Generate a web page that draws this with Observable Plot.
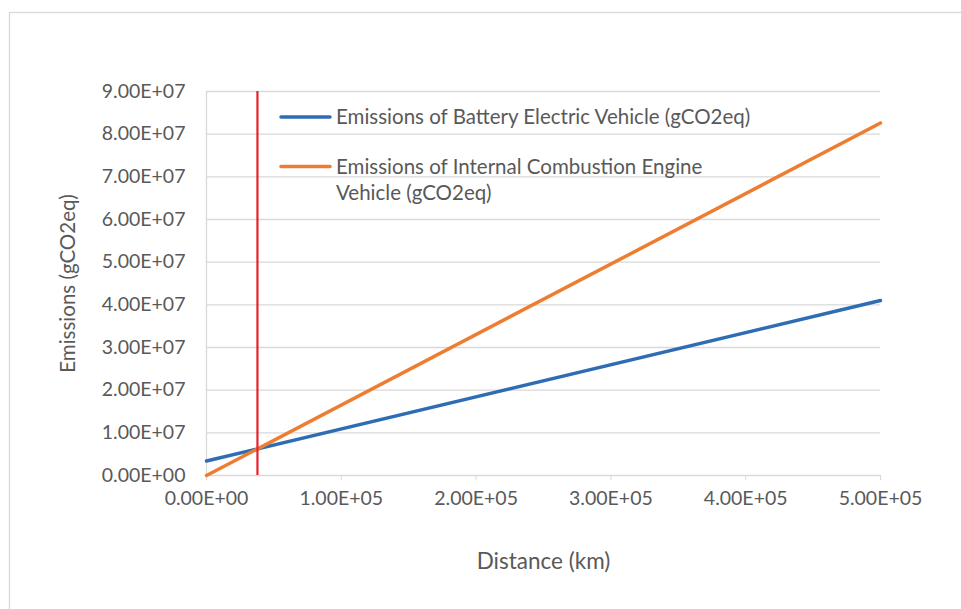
<!DOCTYPE html>
<html>
<head>
<meta charset="utf-8">
<script src="https://cdn.jsdelivr.net/npm/d3@7"></script>
<script src="https://cdn.jsdelivr.net/npm/@observablehq/plot@0.6"></script>
<style>
  html, body { margin: 0; padding: 0; background: #fff; }
  #chart svg { display: block; }
</style>
</head>
<body>
<div id="chart"></div>
<script>
// ---- data ----
const distanceKm = [0, 500000];
const bevEmissions = [3.4e6, 4.1e7];   // gCO2eq
const iceEmissions = [0, 8.26e7];      // gCO2eq
const breakEvenKm = [37800];
const seriesNames = [
  "Emissions of Battery Electric Vehicle (gCO2eq)",
  "Emissions of Internal Combustion Engine Vehicle (gCO2eq)"
];
const xTicks = [0, 100000, 200000, 300000, 400000, 500000];
const yTicks = [0, 1e7, 2e7, 3e7, 4e7, 5e7, 6e7, 7e7, 8e7, 9e7];
const xTitle = "Distance (km)";
const yTitle = "Emissions (gCO2eq)";

const colors = {bev: "#2e6db4", ice: "#ed7d31", red: "#e8202c", grid: "#d9d9d9", text: "#595959"};

const bev = distanceKm.map((d, i) => ({x: d, y: bevEmissions[i]}));
const ice = distanceKm.map((d, i) => ({x: d, y: iceEmissions[i]}));

function sci(v) {
  if (v === 0) return "0.00E+00";
  const e = Math.floor(Math.log10(Math.abs(v)));
  const m = v / Math.pow(10, e);
  return m.toFixed(2) + "E" + (e < 0 ? "-" : "+") + String(Math.abs(e)).padStart(2, "0");
}

function legend(index, scales, values, dims) {
  const g = d3.create("svg:g")
    .attr("font-family", "Lato, sans-serif")
    .attr("font-size", 20.5)
    .attr("text-anchor", "start")
    .attr("fill", colors.text);
  const x0 = dims.marginLeft + 75, y0 = dims.marginTop + 26;
  const items = [
    {color: colors.bev, lines: ["Emissions of Battery Electric Vehicle (gCO2eq)"]},
    {color: colors.ice, lines: ["Emissions of Internal Combustion Engine", "Vehicle (gCO2eq)"]}
  ];
  items.forEach((it, i) => {
    const y = y0 + i * 49.5;
    g.append("line").attr("x1", x0).attr("x2", x0 + 49).attr("y1", y).attr("y2", y)
      .attr("stroke", it.color).attr("stroke-width", 3.5).attr("stroke-linecap", "round");
    it.lines.forEach((t, j) => {
      g.append("text").attr("x", x0 + 55).attr("y", y + j * 26.5).attr("dy", "0.35em").text(t);
    });
  });
  return g.node();
}

function border(index, scales, values, dims) {
  return d3.create("svg:rect")
    .attr("x", 9.5).attr("y", 12.5)
    .attr("width", dims.width).attr("height", dims.height)
    .attr("fill", "none").attr("stroke", colors.grid).attr("stroke-width", 1.3)
    .node();
}

const chart = Plot.plot({
  width: 961,
  height: 609,
  marginLeft: 206,
  marginRight: 81,
  marginTop: 91,
  marginBottom: 134,
  style: {fontFamily: "Lato, sans-serif", fontSize: "19.5px", color: colors.text, background: "#fff"},
  x: {domain: [0, 500000], ticks: xTicks, tickFormat: sci},
  y: {domain: [0, 9e7], ticks: yTicks, tickFormat: sci},
  marks: [
    border,
    Plot.gridY(yTicks, {stroke: colors.grid, strokeOpacity: 1, strokeWidth: 1.3}),
    Plot.ruleX([0], {stroke: colors.grid, strokeWidth: 1.3}),
    Plot.axisY(yTicks, {tickSize: 0, tickPadding: 21, tickFormat: sci, label: null, fill: colors.text}),
    Plot.axisX(xTicks, {tickSize: 5, tickPadding: 11, tickFormat: sci, label: null, stroke: colors.grid, fill: colors.text}),
    Plot.line(bev, {x: "x", y: "y", stroke: colors.bev, strokeWidth: 3.5}),
    Plot.line(ice, {x: "x", y: "y", stroke: colors.ice, strokeWidth: 3.5}),
    Plot.ruleX(breakEvenKm, {y1: 0, y2: 9e7, stroke: colors.red, strokeWidth: 2.2}),
    legend,
    Plot.text([xTitle], {frameAnchor: "bottom", dy: 93, fontSize: 22.5, fill: colors.text}),
    Plot.text([yTitle], {frameAnchor: "left", dx: -138, rotate: -90, textAnchor: "middle", fontSize: 20.5, fill: colors.text})
  ]
});
document.getElementById("chart").appendChild(chart);
</script>
</body>
</html>
